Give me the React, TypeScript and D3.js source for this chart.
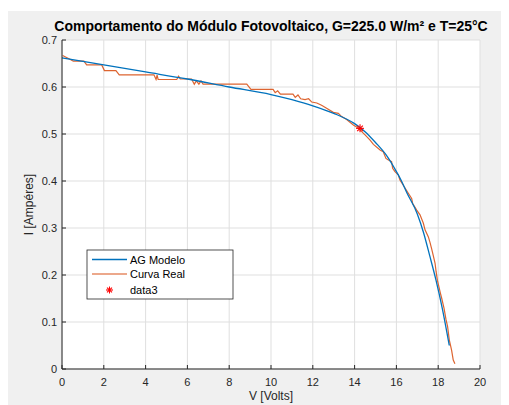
import React from "react";
import * as d3 from "d3";

// Modelled I-V curve (AG Modelo)
const modelV = [0, 2, 4, 6, 8, 10, 11, 12, 13, 14, 14.5, 15, 15.5, 16, 16.22, 16.5, 17, 17.3, 17.6, 17.9, 18.2, 18.53];
const modelI = [0.662, 0.647, 0.632, 0.617, 0.600, 0.584, 0.573, 0.560, 0.544, 0.522, 0.505, 0.482, 0.456, 0.42, 0.402, 0.375, 0.330, 0.290, 0.240, 0.188, 0.128, 0.050];

// Measured I-V curve (Curva Real)
const realV = [
  0.03, 0.38, 0.54, 1.05, 1.18, 1.9, 2.03, 2.58, 2.74, 4.4, 4.5, 4.55, 4.6, 5.49, 5.58, 5.66, 6.2, 6.33,
  6.43, 6.55, 6.65, 6.75, 8.84, 9.04, 10.1, 10.2, 10.32, 10.45, 11.05, 11.16, 11.29, 11.42, 11.63, 11.8,
  11.95, 12.19, 12.42, 12.66, 12.98, 13.22, 13.38, 13.62, 13.94, 14.13, 14.34, 14.5, 14.74, 14.9, 15.22,
  15.37, 15.5, 15.6, 15.77, 15.82, 15.93, 16.09, 16.17, 16.33, 16.57, 16.73, 16.78, 16.97, 17.13, 17.29,
  17.37, 17.53, 17.61, 17.69, 17.77, 17.85, 17.9, 17.96, 18.09, 18.17, 18.28, 18.37, 18.45, 18.53, 18.64,
  18.72, 18.8,
];
const realI = [
  0.667, 0.659, 0.655, 0.655, 0.647, 0.647, 0.635, 0.635, 0.626, 0.626, 0.616, 0.625, 0.616, 0.616, 0.623,
  0.617, 0.617, 0.606, 0.613, 0.606, 0.613, 0.606, 0.606, 0.595, 0.595, 0.588, 0.592, 0.585, 0.585, 0.578,
  0.583, 0.575, 0.573, 0.575, 0.568, 0.566, 0.561, 0.555, 0.546, 0.544, 0.537, 0.531, 0.519, 0.514, 0.505,
  0.498, 0.487, 0.478, 0.466, 0.462, 0.448, 0.445, 0.441, 0.427, 0.42, 0.413, 0.402, 0.391, 0.374, 0.363,
  0.352, 0.338, 0.328, 0.31, 0.296, 0.281, 0.269, 0.255, 0.24, 0.225, 0.207, 0.189, 0.164, 0.15, 0.129,
  0.106, 0.09, 0.062, 0.04, 0.019, 0.011,
];

// Maximum power point (data3)
const mppV = [14.26];
const mppI = [0.512];

const xTicks = [0, 2, 4, 6, 8, 10, 12, 14, 16, 18, 20];
const yTicks = [0, 0.1, 0.2, 0.3, 0.4, 0.5, 0.6, 0.7];
const legendLabels = ["AG Modelo", "Curva Real", "data3"];

const W = 509;
const H = 405;
const FONT = "'Liberation Sans', Arial, Helvetica, sans-serif";
const BLUE = "#0072BD";
const ORANGE = "#D95319";
const AXIS = "#262626";

export default function App() {
  const x = d3.scaleLinear().domain([0, 20]).range([62, 480]);
  const y = d3.scaleLinear().domain([0, 0.7]).range([369, 40]);

  const line = d3
    .line<[number, number]>()
    .x((d) => x(d[0]))
    .y((d) => y(d[1]));

  const modelPts = modelV.map((v, i) => [v, modelI[i]] as [number, number]);
  const realPts = realV.map((v, i) => [v, realI[i]] as [number, number]);
  const modelPath = d3
    .line<[number, number]>()
    .x((d) => x(d[0]))
    .y((d) => y(d[1]))
    .curve(d3.curveMonotoneX)(modelPts) as string;
  const realPath = line(realPts) as string;

  const star = (cx: number, cy: number, r: number, key: string) => {
    const d = r * 0.707;
    return (
      <g key={key} stroke="#ff0000" strokeWidth={1.1}>
        <line x1={cx - r} y1={cy} x2={cx + r} y2={cy} />
        <line x1={cx} y1={cy - r} x2={cx} y2={cy + r} />
        <line x1={cx - d} y1={cy - d} x2={cx + d} y2={cy + d} />
        <line x1={cx - d} y1={cy + d} x2={cx + d} y2={cy - d} />
      </g>
    );
  };

  const [x0, x1] = x.range();
  const [y0, y1] = y.range();

  const legX = 87;
  const legY = 250;
  const legRows = [259.5, 274, 290];

  return (
    <svg
      width={W}
      height={H}
      style={{ position: "absolute", left: 0, top: 0 }}
      fontFamily={FONT}
    >
      <rect x={0} y={0} width={W} height={H} fill="#ffffff" />
      <rect x={8} y={11} width={493} height={H - 11} fill="#f0f0f0" />
      <rect x={x0} y={y1} width={x1 - x0} height={y0 - y1} fill="#ffffff" />

      {/* grid */}
      <g stroke="#dfdfdf" strokeWidth={1}>
        {xTicks.map((t) => (
          <line key={"gx" + t} x1={x(t)} x2={x(t)} y1={y1} y2={y0} />
        ))}
        {yTicks.map((t) => (
          <line key={"gy" + t} x1={x0} x2={x1} y1={y(t)} y2={y(t)} />
        ))}
      </g>

      {/* data */}
      <path d={realPath} fill="none" stroke={ORANGE} strokeWidth={1.2} strokeOpacity={0.9} />
      <path d={modelPath} fill="none" stroke={BLUE} strokeWidth={1.3} />
      {mppV.map((v, i) => star(x(v), y(mppI[i]), 4, "mpp" + i))}

      {/* axes */}
      <g stroke={AXIS} strokeWidth={1}>
        <line x1={x0} x2={x1} y1={y0} y2={y0} />
        <line x1={x0} x2={x0} y1={y0} y2={y1} />
        {xTicks.map((t) => (
          <line key={"tx" + t} x1={x(t)} x2={x(t)} y1={y0} y2={y0 - 4} />
        ))}
        {yTicks.map((t) => (
          <line key={"ty" + t} x1={x0} x2={x0 + 4} y1={y(t)} y2={y(t)} />
        ))}
      </g>
      <g fill={AXIS} fontSize={11}>
        {xTicks.map((t) => (
          <text key={"lx" + t} x={x(t)} y={y0 + 17} textAnchor="middle">
            {t}
          </text>
        ))}
        {yTicks.map((t) => (
          <text key={"ly" + t} x={x0 - 5} y={y(t) + 4} textAnchor="end">
            {t}
          </text>
        ))}
      </g>

      {/* axis titles */}
      <text x={(x0 + x1) / 2} y={y0 + 31} textAnchor="middle" fontSize={12} fill={AXIS}>
        V [Volts]
      </text>
      <text
        transform={`translate(33, ${(y0 + y1) / 2}) rotate(-90)`}
        textAnchor="middle"
        fontSize={12}
        fill={AXIS}
      >
        I [Ampéres]
      </text>
      <text
        x={(x0 + x1) / 2}
        y={31}
        textAnchor="middle"
        fontSize={14}
        fontWeight="bold"
        fill="#000000"
      >
        Comportamento do Módulo Fotovoltaico, G=225.0 W/m² e T=25°C
      </text>

      {/* legend */}
      <rect x={legX} y={legY} width={146} height={49} fill="#ffffff" stroke={AXIS} strokeWidth={0.8} />
      <line x1={92} x2={127} y1={legRows[0]} y2={legRows[0]} stroke={BLUE} strokeWidth={1.3} />
      <line x1={92} x2={127} y1={legRows[1]} y2={legRows[1]} stroke={ORANGE} strokeWidth={1.2} />
      {star(109.5, legRows[2], 3.5, "legstar")}
      <g fontSize={11} fill="#000000">
        {legendLabels.map((l, i) => (
          <text key={l} x={130} y={legRows[i] + 4}>
            {l}
          </text>
        ))}
      </g>
    </svg>
  );
}
